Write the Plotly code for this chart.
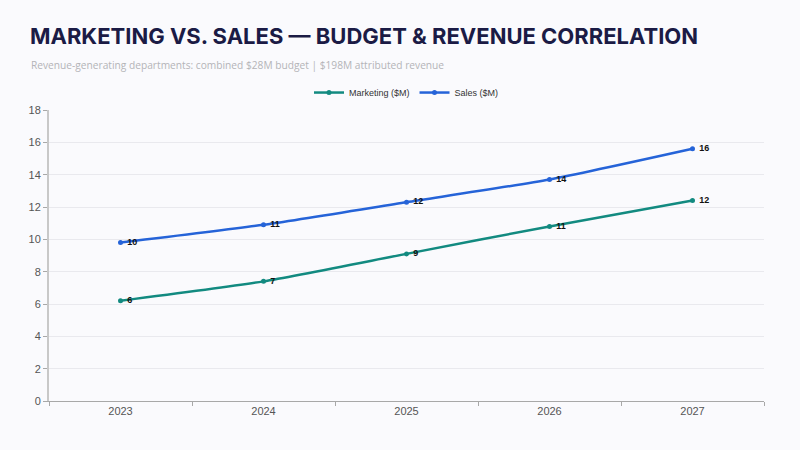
import plotly.graph_objects as go

years = ["2023", "2024", "2025", "2026", "2027"]
marketing = [6.2, 7.4, 9.1, 10.8, 12.4]
sales = [9.8, 10.9, 12.3, 13.7, 15.6]
y_ticks = [0, 2, 4, 6, 8, 10, 12, 14, 16, 18]

bg = "#fafafd"

fig = go.Figure()
for name, vals, col in [("Marketing ($M)", marketing, "#128a80"),
                        ("Sales ($M)", sales, "#2563d8")]:
    fig.add_trace(go.Scatter(
        x=years, y=vals, name=name,
        mode="lines+markers+text",
        line=dict(color=col, width=2.5, shape="spline", smoothing=0.6),
        marker=dict(color=col, size=5),
        text=[" " + f"{v:.0f}" for v in vals],
        textposition="middle right",
        textfont=dict(family="Liberation Sans, Arial", size=9, color="#111111", weight="bold"),
        cliponaxis=False,
    ))

fig.update_layout(
    width=800, height=450,
    paper_bgcolor=bg, plot_bgcolor=bg,
    margin=dict(l=49, r=36, t=110, b=49),
    title=dict(
        text="MARKETING VS. SALES — BUDGET & REVENUE CORRELATION",
        x=0.0375, xanchor="left", y=0.92, yanchor="middle",
        font=dict(family="Inter", size=22, color="#1b1b45", weight="bold"),
    ),
    annotations=[dict(
        text="Revenue-generating departments: combined $28M budget | $198M attributed revenue",
        xref="paper", yref="paper", x=-0.0275, y=1.155, xanchor="left", yanchor="middle",
        showarrow=False, font=dict(family="Open Sans", size=10.2, color="#b4b4b8"),
    )],
    legend=dict(
        orientation="h", x=0.5, xanchor="center", y=1.06, yanchor="middle",
        font=dict(family="Liberation Sans, Arial", size=9, color="#333333"),
        bgcolor="rgba(0,0,0,0)",
    ),
    xaxis=dict(
        type="category", range=[-0.5, 4.5], tickson="boundaries", ticks="outside", ticklen=4,
        tickcolor="#a8a8a8", showline=True, linecolor="#a8a8a8", linewidth=1,
        showgrid=False, tickfont=dict(family="Liberation Sans, Arial", size=11, color="#555555"),
    ),
    yaxis=dict(
        range=[0, 18], tickvals=y_ticks, ticks="outside", ticklen=4,
        tickcolor="#a8a8a8", showline=True, linecolor="#c8c8c8", linewidth=2,
        gridcolor="#e9e9ee", zeroline=False,
        tickfont=dict(family="Liberation Sans, Arial", size=11, color="#555555"),
    ),
)

fig.write_html("out.html", config={"displayModeBar": False},
               post_script="document.body.style.margin='0';document.body.style.background='%s';" % bg)
